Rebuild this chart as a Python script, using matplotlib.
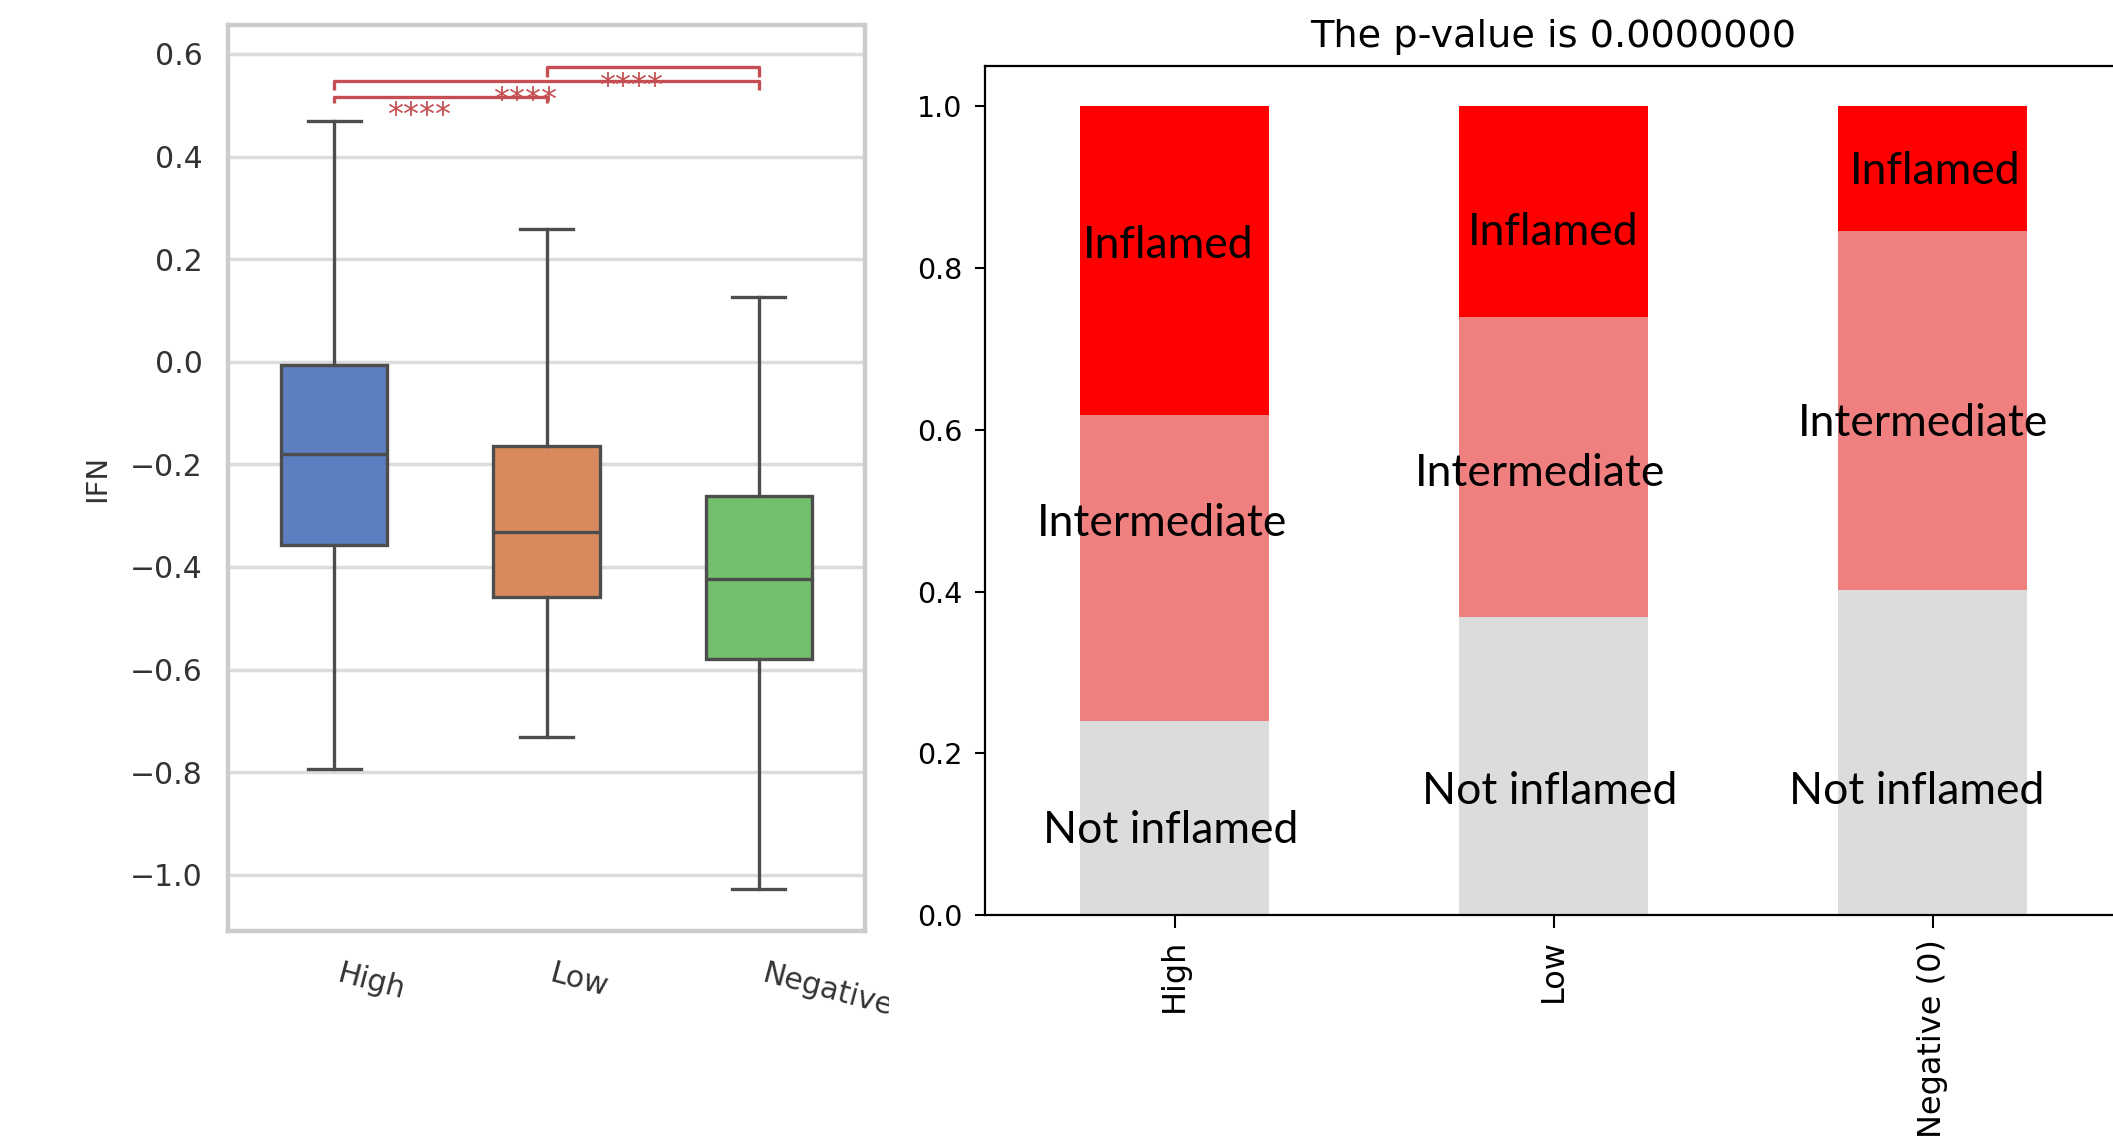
import matplotlib
matplotlib.use("Agg")
import matplotlib.pyplot as plt
from matplotlib.transforms import Bbox, TransformedBbox

# ---------------- data: left panel (IFN box plot) ----------------
groups = ["High", "Low", "Negative"]
whisker_low = [-0.793, -0.731, -1.028]
q1_vals = [-0.358, -0.459, -0.579]
medians = [-0.180, -0.331, -0.424]
q3_vals = [-0.006, -0.164, -0.262]
whisker_high = [0.470, 0.258, 0.127]
box_colors = ["#5b7fc0", "#d98a5d", "#74bf6e"]

pairs = [(0, 1), (0, 2), (1, 2)]
pair_labels = ["****", "****", "****"]
bracket_y = [0.517, 0.547, 0.575]
bracket_drop = [0.013, 0.017, 0.019]

# ---------------- data: right panel (stacked proportions) ----------------
categories = ["High", "Low", "Negative (0)"]
not_inflamed = [0.240, 0.368, 0.402]
intermediate = [0.378, 0.372, 0.444]
inflamed = [0.382, 0.260, 0.154]
segment_names = ["Not inflamed", "Intermediate", "Inflamed"]
segment_colors = ["gainsboro", "lightcoral", "red"]
# label anchor positions (x offset from bar centre, y baseline)
label_dx = {"Not inflamed": [-0.01, -0.01, -0.043],
            "Intermediate": [-0.034, -0.035, -0.024],
            "Inflamed": [-0.016, 0.0, 0.007]}
label_y = {"Not inflamed": [0.089, 0.137, 0.137],
           "Intermediate": [0.469, 0.531, 0.593],
           "Inflamed": [0.813, 0.829, 0.904]}
title_text = "The p-value is 0.0000000"

W, H = 2113, 1145
fig = plt.figure(figsize=(W / 100, H / 100), dpi=100)
fig.patch.set_facecolor("white")

# ---------------- left panel ----------------
ax1 = fig.add_axes([228 / W, 1 - 931 / H, (865 - 228) / W, (931 - 25) / H])
stats = []
for i, g in enumerate(groups):
    stats.append(dict(label=g, whislo=whisker_low[i], q1=q1_vals[i], med=medians[i],
                      q3=q3_vals[i], whishi=whisker_high[i], fliers=[]))
edge = "#4d4d4d"
lw = 2.4
bp = ax1.bxp(stats, positions=range(len(groups)), widths=0.5, patch_artist=True,
             showfliers=False,
             boxprops=dict(edgecolor=edge, linewidth=lw),
             medianprops=dict(color=edge, linewidth=lw),
             whiskerprops=dict(color=edge, linewidth=lw),
             capprops=dict(color=edge, linewidth=lw))
for patch, c in zip(bp["boxes"], box_colors):
    patch.set_facecolor(c)

ann_color = "#c44e52"
text_drop = 0.054
text_shift = -0.1
for (a, b), lab, y, d in zip(pairs, pair_labels, bracket_y, bracket_drop):
    ax1.plot([a, a, b, b], [y - d, y, y, y - d], color=ann_color, lw=2.4,
             solid_capstyle="butt", clip_on=False)
    ax1.text((a + b) / 2 + text_shift, y - text_drop, lab, ha="center", va="baseline",
             color=ann_color, fontsize=23, family="DejaVu Sans")

ax1.set_xlim(-0.5, 2.5)
ax1.set_ylim(-1.1096, 0.6565)
ax1.set_yticks([-1.0, -0.8, -0.6, -0.4, -0.2, 0.0, 0.2, 0.4, 0.6])
ax1.set_xticks(range(len(groups)))
ax1.set_xticklabels(groups, rotation=-15, ha="left")
ax1.tick_params(axis="both", length=0, labelsize=21.5, labelcolor="#333333")
ax1.tick_params(axis="y", pad=18)
ax1.tick_params(axis="x", pad=20)
ax1.yaxis.grid(True, color="#dcdcdc", lw=2.5)
ax1.xaxis.grid(False)
ax1.set_axisbelow(True)
for s in ax1.spines.values():
    s.set_color("#cccccc")
    s.set_linewidth(3.2)
ax1.set_ylabel("IFN", fontsize=21, color="#333333", labelpad=14)
clip = TransformedBbox(Bbox([[0, 0], [889 / W, 1]]), fig.transFigure)
for t in ax1.get_xticklabels():
    t.set_clip_box(clip)
    t.set_clip_on(True)

# ---------------- right panel ----------------
ax2 = fig.add_axes([985 / W, 1 - 915 / H, (2122 - 985) / W, (915 - 66) / H])
xpos = list(range(len(categories)))
bottom = [0.0] * len(categories)
for name, vals, col in zip(segment_names, [not_inflamed, intermediate, inflamed], segment_colors):
    ax2.bar(xpos, vals, width=0.5, bottom=bottom, color=col, label=name)
    bottom = [b + v for b, v in zip(bottom, vals)]
for name in segment_names:
    for i in xpos:
        ax2.text(i + label_dx[name][i], label_y[name][i], name, ha="center", va="baseline",
                 fontsize=32, family="Lato", color="black")
ax2.set_xlim(-0.5, 2.5)
ax2.set_ylim(0, 1.05)
ax2.set_yticks([0.0, 0.2, 0.4, 0.6, 0.8, 1.0])
ax2.set_xticks(xpos)
ax2.set_xticklabels(categories, rotation=90)
ax2.tick_params(axis="y", length=10 * 0.72, width=1.5, labelsize=20.5, pad=9)
ax2.tick_params(axis="x", length=13 * 0.72, width=1.5, labelsize=23, pad=8)
for s in ax2.spines.values():
    s.set_color("black")
    s.set_linewidth(1.6)
ax2.set_title(title_text, fontsize=27.5, pad=14)

fig.savefig("out.png", dpi=100, facecolor="white")
